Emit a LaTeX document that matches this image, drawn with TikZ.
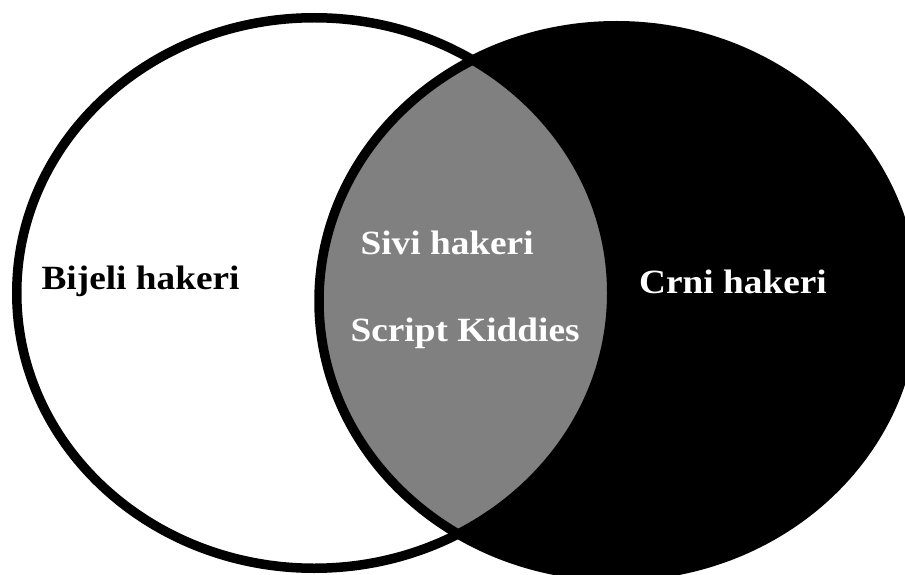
\documentclass[tikz,border=0pt]{standalone}
\usepackage{fontspec}
\usepackage{graphicx}
\setmainfont{Liberation Serif}
\definecolor{lensgray}{RGB}{128,128,128}
\begin{document}
\begin{tikzpicture}[x=1pt,y=-1pt,
  lbl/.style={inner sep=0pt, anchor=base west, font=\bfseries\fontsize{37.3}{40}\selectfont},
  rim/.style={draw=black, line width=9.5pt}]
\useasboundingbox (0,0) rectangle (905,575);
\clip (0,0) rectangle (905,575);
\fill[white] (0,0) rectangle (905,575);
% white set (left) and black set (right)
\fill[white] (314.25,293) ellipse [x radius=297.5, y radius=275.25];
\fill[black] (616.5,301) ellipse [x radius=297.5, y radius=275.25];
% grey intersection
\begin{scope}
  \clip (314.25,293) ellipse [x radius=297.5, y radius=275.25];
  \fill[lensgray] (616.5,301) ellipse [x radius=297.5, y radius=275.25];
\end{scope}
% outlines
\path[rim] (314.25,293) ellipse [x radius=297.5, y radius=275.25];
\path[rim] (616.5,301) ellipse [x radius=297.5, y radius=275.25];
% labels
\node[lbl, text=black] (bijeli) at (41.4,289.3) {\scalebox{1}[0.91]{Bijeli hakeri}};
\node[lbl, text=white] (sivi) at (360.4,254.3) {\scalebox{1}[0.91]{Sivi hakeri}};
\node[lbl, text=white] (script) at (350.4,341.7) {\scalebox{1}[0.91]{Script Kiddies}};
\node[lbl, text=white] (crni) at (639,293.3) {\scalebox{1}[0.91]{Crni hakeri}};
\end{tikzpicture}
\end{document}
